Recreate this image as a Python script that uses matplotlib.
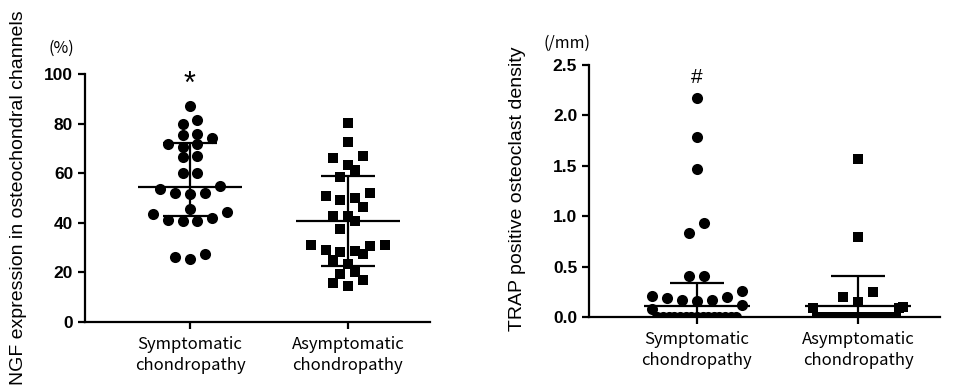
import matplotlib
matplotlib.use("Agg")
import matplotlib.pyplot as plt
import numpy as np

plt.rcParams['font.family'] = ['Liberation Sans', 'DejaVu Sans']

groups = ['Symptomatic\nchondropathy', 'Asymptomatic\nchondropathy']

# NGF expression (%)
ngf_sym = [87.1, 79.8, 81.4, 75.4, 74.3, 75.8, 71.9, 70.7, 71.6, 66.6, 67.0,
           60.3, 60.2, 54.9, 52.2, 51.8, 52.1, 53.8, 44.4, 41.9, 40.8, 40.6,
           41.0, 43.7, 45.4, 27.3, 25.3, 26.1]
ngf_asym = [80.3, 72.7, 66.2, 66.9, 61.2, 63.3, 58.5, 52.1, 50.1, 49.4, 50.7,
            46.4, 42.7, 42.7, 40.7, 37.7, 29.2, 28.3, 31.0, 30.6, 31.0, 27.6,
            28.5, 24.9, 23.6, 20.2, 19.5, 17.1, 15.8, 14.4]
ngf_mid = [54.5, 40.8]
ngf_low = [42.9, 22.5]
ngf_high = [72.3, 58.9]

# TRAP positive osteoclast density (/mm), right panel
trap_sym = [2.17, 1.79, 1.47, 0.93, 0.83, 0.41, 0.41, 0.26, 0.205, 0.20, 0.19,
            0.17, 0.17, 0.16, 0.12, 0.08,
            0.0, 0.0, 0.0, 0.0, 0.0, 0.0, 0.0, 0.0, 0.0, 0.0, 0.0, 0.0, 0.0,
            0.0, 0.0]
trap_asym = [1.57, 0.79, 0.25, 0.20, 0.15, 0.10, 0.09, 0.09,
             0.0, 0.0, 0.0, 0.0, 0.0, 0.0, 0.0, 0.0, 0.0, 0.0, 0.0, 0.0, 0.0,
             0.0, 0.0, 0.0, 0.0, 0.0, 0.0, 0.0, 0.0, 0.0]
trap_mid = [0.11, 0.105]
trap_low = [-0.12, -0.20]
trap_high = [0.34, 0.41]


def swarm_x(values, center, binw, step=0.094, maxw=0.56):
    # GraphPad-ish rows: lowest point in the middle, then alternate outwards
    v = np.asarray(values, float)
    order = np.argsort(v, kind='stable')
    x = np.zeros(len(v))
    i = 0
    while i < len(order):
        j = i
        while j < len(order) and v[order[j]] < v[order[i]] + binw:
            j += 1
        row = order[i:j]
        n = len(row)
        gap = step if n < 2 else min(step, maxw / (n - 1))
        if n % 2:
            slots = [0] + [s for k in range(1, n // 2 + 1) for s in (-k, k)]
        else:
            slots = [s for k in range(n // 2) for s in (-(k + 0.5), k + 0.5)]
        x[row] = center + np.array(slots[:n]) * gap
        i = j
    return x


def panel(ax, data, mid, low, high, binw):
    for k, (vals, mk, sz) in enumerate(zip(data, ['o', 's'], [64, 52])):
        ax.scatter(swarm_x(vals, k, binw), vals, marker=mk, s=sz, c='black',
                   linewidths=0, zorder=3)
        ax.hlines(mid[k], k - 0.33, k + 0.33, color='black', lw=1.6, zorder=4)
        ax.hlines([low[k], high[k]], k - 0.17, k + 0.17, color='black', lw=1.6, zorder=4)
        ax.vlines(k, low[k], high[k], color='black', lw=1.6, zorder=4)
    ax.spines['top'].set_visible(False)
    ax.spines['right'].set_visible(False)
    for s in ['left', 'bottom']:
        ax.spines[s].set_linewidth(1.6)
    ax.set_xticks([0, 1])
    ax.set_xticklabels(groups, fontsize=12, family=['Noto Sans CJK JP', 'DejaVu Sans'],
                       linespacing=1.3)
    ax.tick_params(axis='both', width=1.6, length=5)
    ax.tick_params(axis='x', pad=5)
    for t in ax.get_yticklabels():
        t.set_fontweight('bold')
        t.set_fontsize(12.5)


fig = plt.figure(figsize=(9.57, 3.85), dpi=100)

ax1 = fig.add_axes([0.0888, 0.1636, 0.3605, 0.644])
ax1.set_xlim(-0.665, 1.52)
ax1.set_ylim(0, 100)
ax1.set_yticks([0, 20, 40, 60, 80, 100])
panel(ax1, [ngf_sym, ngf_asym], ngf_mid, ngf_low, ngf_high, 4.1)
ax1.set_ylabel('NGF expression in osteochondral channels', fontsize=14, va='center')
ax1.yaxis.set_label_coords(-0.194, 0.5)
ax1.text(-0.067, 1.105, '(%)', transform=ax1.transAxes, ha='center', va='center',
         fontsize=11.5, family=['Noto Sans CJK JP', 'DejaVu Sans'])
ax1.text(0, 95.5, '*', ha='center', va='center', fontsize=22)

ax2 = fig.add_axes([0.6155, 0.1766, 0.3668, 0.6545])
ax2.set_xlim(-0.67, 1.51)
ax2.set_ylim(0, 2.5)
ax2.set_yticks([0, 0.5, 1.0, 1.5, 2.0, 2.5])
ax2.set_yticklabels(['0.0', '0.5', '1.0', '1.5', '2.0', '2.5'])
panel(ax2, [trap_sym, trap_asym], trap_mid, trap_low, trap_high, 0.13)
ax2.set_ylabel('TRAP positive osteoclast density', fontsize=14, va='center')
ax2.yaxis.set_label_coords(-0.205, 0.508)
ax2.text(-0.063, 1.087, '(/mm)', transform=ax2.transAxes, ha='center', va='center',
         fontsize=11.5, family=['Noto Sans CJK JP', 'DejaVu Sans'])
ax2.text(0, 2.38, '#', ha='center', va='center', fontsize=15)

fig.savefig('out.png', dpi=100)
